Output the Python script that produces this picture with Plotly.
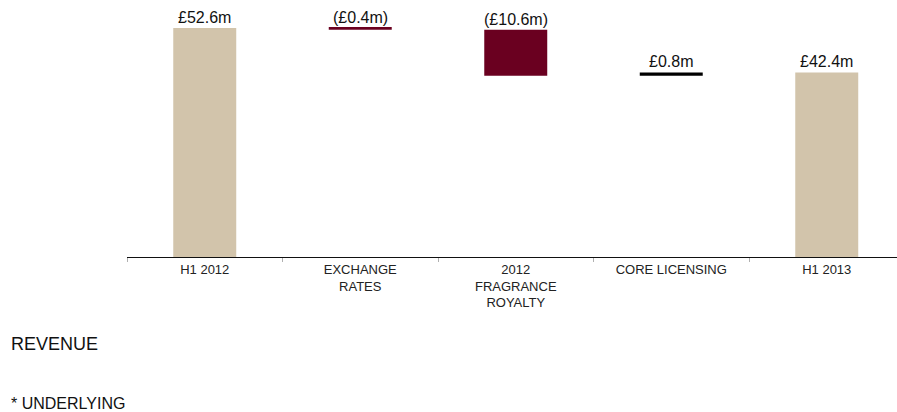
import plotly.graph_objects as go

# Revenue bridge, H1 2012 to H1 2013 (£m)
categories = ["H1 2012", "EXCHANGE RATES", "2012 FRAGRANCE ROYALTY", "CORE LICENSING", "H1 2013"]
tick_labels = ["H1 2012", "EXCHANGE<br>RATES", "2012<br>FRAGRANCE<br>ROYALTY", "CORE LICENSING", "H1 2013"]
values = [52.6, -0.4, -10.6, 0.8, 42.4]
measures = ["absolute", "relative", "relative", "relative", "total"]
value_labels = ["£52.6m", "(£0.4m)", "(£10.6m)", "£0.8m", "£42.4m"]

TAN = "#D2C4AB"
MAROON = "#6A0020"
BLACK = "#000000"
FONT = "Liberation Sans, Arial, sans-serif"

W, H = 897, 412
ML, MR, MT, MB = 127, 0, 0, 155
PW = W - ML - MR
PH = H - MT - MB


def paper_x(px):
    return (px - ML) / PW


def paper_y(py):
    return 1 - (py - MT) / PH


fig = go.Figure(
    go.Waterfall(
        x=categories,
        y=values,
        measure=measures,
        width=0.405,
        totals=dict(marker=dict(color=TAN)),
        decreasing=dict(marker=dict(color=MAROON)),
        increasing=dict(marker=dict(color=BLACK)),
        connector=dict(visible=False),
        hoverinfo="x+y",
    )
)

# value labels sit just above the upper edge of each bar
running = 0.0
for cat, val, meas, lab in zip(categories, values, measures, value_labels):
    if meas == "absolute":
        lo, hi = 0.0, val
        running = val
    elif meas == "total":
        lo, hi = 0.0, running
    else:
        lo, hi = running, running + val
        running += val
    top = max(lo, hi)
    fig.add_annotation(
        x=cat, y=top, xref="x", yref="y",
        text=lab, showarrow=False,
        xanchor="center", yanchor="bottom", yshift=0,
        font=dict(family=FONT, size=16, color="#111111"),
    )

fig.add_annotation(
    x=paper_x(9), y=paper_y(343.5), xref="paper", yref="paper",
    text="REVENUE", showarrow=False, xanchor="left", yanchor="middle",
    font=dict(family=FONT, size=18, color="#111111"),
)
fig.add_annotation(
    x=paper_x(9), y=paper_y(403), xref="paper", yref="paper",
    text="* UNDERLYING", showarrow=False, xanchor="left", yanchor="middle",
    font=dict(family=FONT, size=16, color="#111111"),
)

fig.update_layout(
    width=W, height=H,
    margin=dict(l=ML, r=MR, t=MT, b=MB, pad=0),
    paper_bgcolor="white", plot_bgcolor="white",
    showlegend=False,
    font=dict(family=FONT, color="#222222"),
    xaxis=dict(
        type="category",
        range=[-0.5, -0.5 + PW / 155.5],
        tickmode="array", tickvals=categories, ticktext=tick_labels,
        tickson="boundaries", ticks="outside", ticklen=4, tickwidth=1,
        tickcolor="#b0b0b0",
        showline=True, linecolor="#111111", linewidth=1,
        showgrid=False, zeroline=False,
        tickfont=dict(family=FONT, size=13, color="#222222"),
        fixedrange=True,
    ),
    yaxis=dict(
        range=[0, PH / 4.354],
        visible=False, showgrid=False, zeroline=False,
        fixedrange=True,
    ),
)

fig.write_html("out.html")
